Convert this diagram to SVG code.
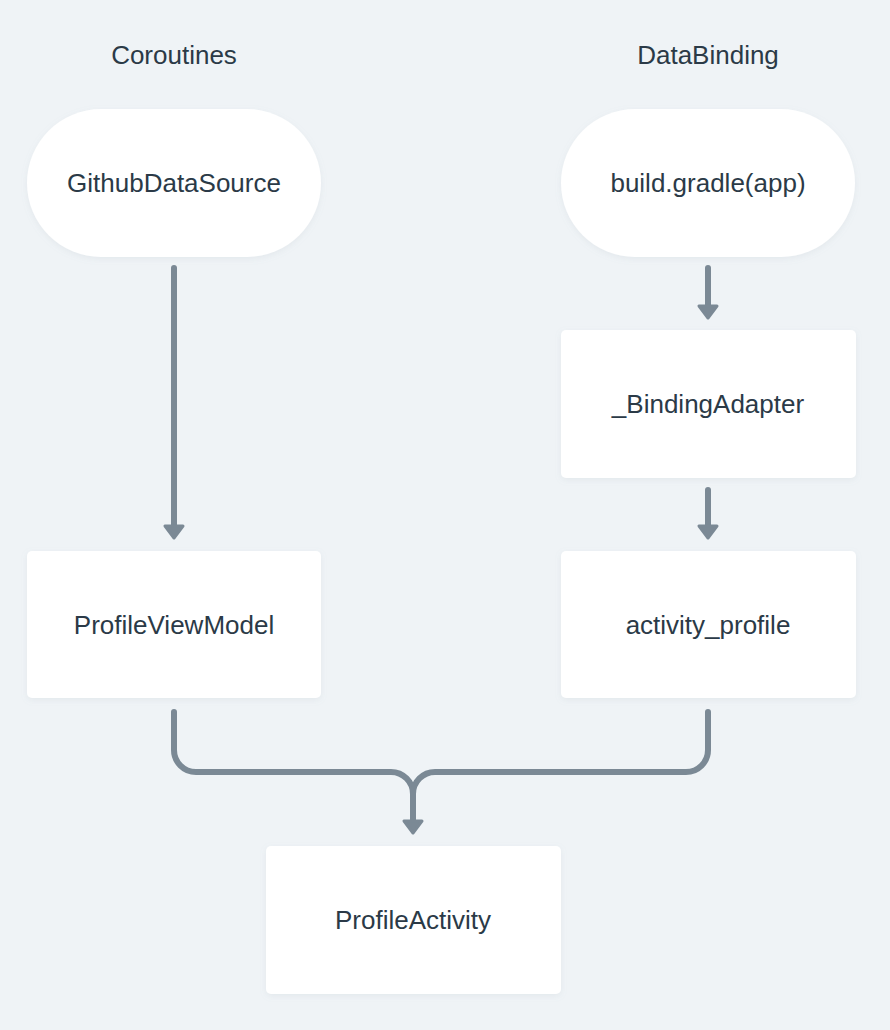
<svg xmlns="http://www.w3.org/2000/svg" width="890" height="1030" viewBox="0 0 890 1030">
  <defs>
    <filter id="sh" x="-10%" y="-10%" width="120%" height="130%">
      <feDropShadow dx="0" dy="2" stdDeviation="3" flood-color="#8a99a8" flood-opacity="0.12"/>
    </filter>
    <marker id="ah" markerUnits="userSpaceOnUse" markerWidth="20" markerHeight="24" refX="3" refY="12" orient="auto" viewBox="0 0 20 24">
      <path d="M3 3 L15 12 L3 21 Z" fill="#7b8995" stroke="#7b8995" stroke-width="3" stroke-linejoin="round"/>
    </marker>
  </defs>
  <style>
    .node { fill: #ffffff; filter: url(#sh); }
    .lbl { font-family: "Liberation Sans", Arial, sans-serif; font-size: 26px; fill: #2b3a47; text-anchor: middle; }
    .ttl { font-family: "Liberation Sans", Arial, sans-serif; font-size: 26px; fill: #2b3a47; text-anchor: middle; }
    .edge { fill: none; stroke: #7b8995; stroke-width: 6; stroke-linecap: round; stroke-linejoin: round; }
  </style>
  <rect x="0" y="0" width="890" height="1030" fill="#eff3f6"/>

  <g id="titles">
    <text class="ttl" x="174" y="64">Coroutines</text>
    <text class="ttl" x="708" y="64">DataBinding</text>
  </g>

  <g id="connectors">
    <path class="edge" d="M174 268 V526" marker-end="url(#ah)"/>
    <path class="edge" d="M708 268 V306" marker-end="url(#ah)"/>
    <path class="edge" d="M708 490 V526" marker-end="url(#ah)"/>
    <path class="edge" d="M174 712 V750 A22 22 0 0 0 196 772 H391 A22 22 0 0 1 413 794"/>
    <path class="edge" d="M708 712 V750 A22 22 0 0 1 686 772 H435 A22 22 0 0 0 413 794 V821" marker-end="url(#ah)"/>
  </g>

  <g id="node-githubdatasource">
    <rect class="node" x="27" y="109" width="294" height="148" rx="74" ry="74"/>
    <text class="lbl" x="174" y="192">GithubDataSource</text>
  </g>
  <g id="node-buildgradle">
    <rect class="node" x="561" y="109" width="294" height="148" rx="74" ry="74"/>
    <text class="lbl" x="708" y="192">build.gradle(app)</text>
  </g>
  <g id="node-bindingadapter">
    <rect class="node" x="561" y="330" width="295" height="148" rx="5" ry="5"/>
    <text class="lbl" x="708" y="413">_BindingAdapter</text>
  </g>
  <g id="node-profileviewmodel">
    <rect class="node" x="27" y="551" width="294" height="147" rx="5" ry="5"/>
    <text class="lbl" x="174" y="634">ProfileViewModel</text>
  </g>
  <g id="node-activityprofile">
    <rect class="node" x="561" y="551" width="295" height="147" rx="5" ry="5"/>
    <text class="lbl" x="708" y="634">activity_profile</text>
  </g>
  <g id="node-profileactivity">
    <rect class="node" x="266" y="846" width="295" height="148" rx="5" ry="5"/>
    <text class="lbl" x="413" y="929">ProfileActivity</text>
  </g>
</svg>
